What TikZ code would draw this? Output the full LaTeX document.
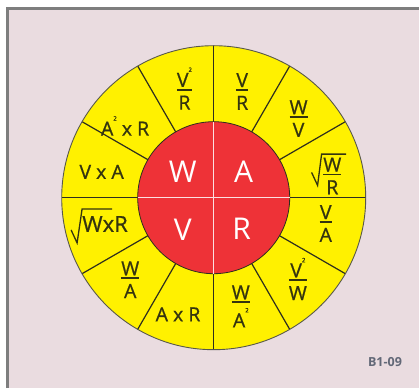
\documentclass[tikz,border=0pt]{standalone}
\usepackage{fontspec}
\setmainfont{Open Sans}
\newfontfamily\cellfont{Open Sans}[FakeBold=0.8]
\usetikzlibrary{positioning}
\definecolor{pinkBg}{HTML}{EADCE0}
\definecolor{frameGray}{HTML}{7E7E7E}
\definecolor{wheelYellow}{HTML}{FFF100}
\definecolor{wheelRed}{HTML}{EE3237}
\definecolor{lineDark}{HTML}{2E2E1E}
\definecolor{labelDark}{HTML}{34340F}
\definecolor{codeGray}{HTML}{626877}
% fraction with a short heavy bar
\newcommand\fr[2]{\ensuremath{\vcenter{\halign{\hfil##\hfil\cr #1\cr
  \noalign{\kern2pt\hrule height1.8pt\kern5pt}#2\cr}}}}
\newcommand\sq{\raisebox{15pt}{\fontsize{6}{6}\selectfont 2}}

\begin{document}
\begin{tikzpicture}[x=1pt,y=1pt,
    wheelline/.style={draw=lineDark,line width=1.2pt},
    rootline/.style={draw=labelDark,line width=1.3pt,line join=miter},
    celltext/.style={text=labelDark,font=\cellfont\fontsize{19.5}{22}\selectfont,inner sep=0pt},
    hubtext/.style={text=white,font=\fontsize{30}{34}\selectfont,inner sep=0pt}]
  \useasboundingbox (0,0) rectangle (419,388);
  % frame
  \fill[pinkBg] (8,0) rectangle (419,379);
  \draw[frameGray,line width=2.5pt] (7.5,0) -- (7.5,379.5) -- (419,379.5);
  \coordinate (hub) at (213.7,190.3);
  % outer ring
  \fill[wheelYellow] (hub) circle (152);
  \foreach \a in {0,30,...,330}
    \draw[wheelline] (hub) ++(\a:75) -- ++(\a:77);
  \draw[lineDark!80,line width=0.9pt] (hub) circle (152);
  % inner disc
  \fill[wheelRed,draw=lineDark,line width=0.8pt] (hub) circle (76);
  \draw[white!85!wheelRed,line width=1.1pt]
    (hub) ++(-76,0) -- ++(152,0) (hub) ++(0,-76) -- ++(0,152);
  \node[hubtext] (hubW) at ([shift={(-31,26)}]hub) {W};
  \node[hubtext] (hubA) at ([shift={(30,26)}]hub) {A};
  \node[hubtext] (hubV) at ([shift={(-31,-32)}]hub) {V};
  \node[hubtext] (hubR) at ([shift={(28,-31)}]hub) {R};
  % formulas round the ring
  \foreach \a/\r/\n/\t in {
      105/113/vsqr/{\fr{V\sq}{R}},
      75/110/vr/{\fr{V}{R}},
      43/116/wv/{\fr{W}{V}},
      10.4/120.6/rootwr/{\fr{W}{R}},
      -13/115/va/{\fr{V}{A}},
      -44/117/vsqw/{\fr{V\sq}{W}},
      -76/112/wasq/{\fr{W}{A\sq}},
      253/122/axr/{A x R},
      224.5/117/wa/{\fr{W}{A}},
      167/115/vxa/{V x A},
      141/114/asqxr/{A\sq\ x R}}
    \node[celltext] (\n) at ([shift={(\a:\r)}]hub) {\t};
  \node[celltext,font=\cellfont\fontsize{22}{24}\selectfont]
    (rootwxr) at ([shift={(193.6:111.8)}]hub) {WxR};
  % root signs
  \draw[rootline] ([shift={(-11.5,-15)}]rootwr.north west)
    -- ([shift={(-5.5,-28)}]rootwr.north west)
    -- ([shift={(-1.5,3.3)}]rootwr.north west)
    -- ([shift={(23,3.3)}]rootwr.north west);
  \draw[rootline] ([shift={(-11,-14)}]rootwxr.north west)
    -- ([shift={(-5,-27)}]rootwxr.north west)
    -- ([shift={(0,7)}]rootwxr.north west)
    -- ([shift={(30,7)}]rootwxr.north west);
  \node[text=codeGray,font=\bfseries\fontsize{12.5}{14}\selectfont,inner sep=0pt]
    (code) at (385,26) {B1-09};
\end{tikzpicture}
\end{document}
